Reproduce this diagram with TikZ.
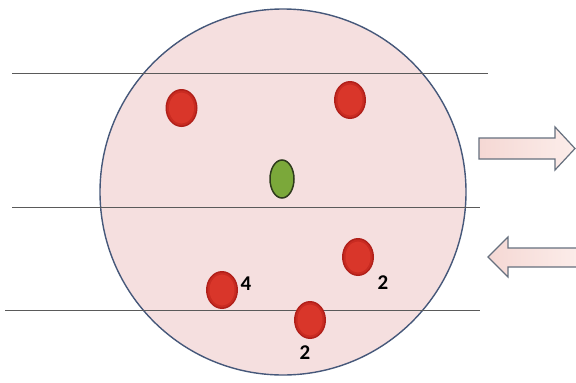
\documentclass[tikz,border=0pt]{standalone}
\usepackage{fontspec}
\newfontfamily\lblfont{Carlito}
\definecolor{disc}{HTML}{F5DFDF}
\definecolor{discedge}{HTML}{46587A}
\definecolor{rule}{HTML}{5A5A5A}
\definecolor{arrowedge}{HTML}{66707E}
\definecolor{arrowA}{HTML}{F5D8D4}
\definecolor{arrowB}{HTML}{FCEDEA}
\definecolor{redin}{HTML}{D9362A}
\definecolor{redmid}{HTML}{C82B21}
\definecolor{redout}{HTML}{B01F19}
\definecolor{greenfill}{HTML}{7BA83A}
\definecolor{greenedge}{HTML}{2E3A1C}
\tikzset{
  redouter/.style={fill=redout},
  redmiddle/.style={fill=redmid},
  redinner/.style={fill=redin},
  flowarrow/.style={draw=arrowedge, line width=1.2pt, left color=arrowA, right color=arrowB, line join=miter},
  hline/.style={draw=rule, line width=0.9pt},
  num/.style={font=\lblfont\bfseries\fontsize{21}{21}\selectfont, text=black, inner sep=0pt}
}
\newcommand{\reddot}[1]{%
  \fill[redouter] #1 ellipse[x radius=16, y radius=19];
  \fill[redmiddle] #1 ellipse[x radius=14.5, y radius=17.5];
  \fill[redinner] #1 ellipse[x radius=12.5, y radius=15.5];
}
\begin{document}
\begin{tikzpicture}[x=1pt, y=-1pt]
\useasboundingbox (0,0) rectangle (576,383);
\fill[white] (0,0) rectangle (576,383);
\clip (0,0) rectangle (576,383);
% disc
\filldraw[fill=disc, draw=discedge, line width=1.4pt] (283,192) circle[radius=183];
% horizontal lines
\draw[hline] (12,73) -- (488,73);
\draw[hline] (12,207) -- (480,207);
\draw[hline] (5,310) -- (480,310);
% red dots
\reddot{(181.5,108)}
\reddot{(350,100)}
\reddot{(358,257)}
\reddot{(222,290)}
\reddot{(310,320)}
% green dot
\filldraw[fill=greenfill, draw=greenedge, line width=1.5pt] (282,179) ellipse[x radius=12, y radius=19];
% labels
\node[num] (l4) at (246,284) {4};
\node[num] (l2a) at (383,283) {2};
\node[num] (l2b) at (305,353) {2};
% arrows
\path[flowarrow] (479,138) -- (555,138) -- (555,127) -- (575,148.5) -- (555,170) -- (555,159) -- (479,159) -- cycle;
\path[flowarrow] (580,248) -- (508,248) -- (508,237) -- (488,257) -- (508,277) -- (508,267) -- (580,267) -- cycle;
\end{tikzpicture}
\end{document}
